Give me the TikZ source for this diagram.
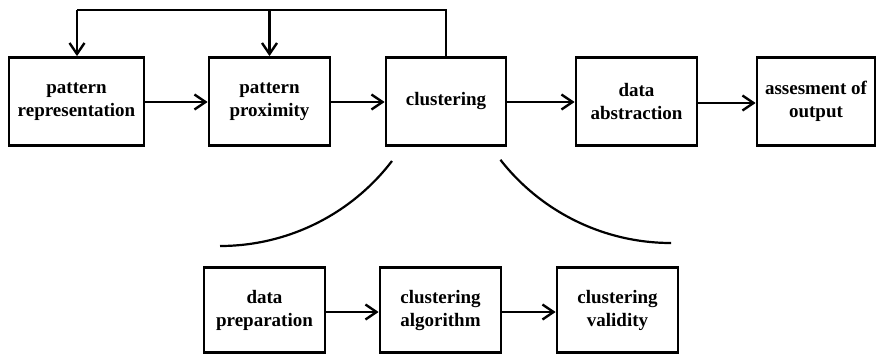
\documentclass[tikz,border=0pt]{standalone}
\usepackage{fontspec}
\setmainfont{Liberation Serif}
\usetikzlibrary{arrows.meta}
\tikzset{
  box/.style={draw=black, line width=2.8pt, fill=white, align=center, inner sep=0pt,
    minimum height=88pt, font=\fontsize{19}{23}\selectfont\bfseries},
  conn/.style={line width=2.4pt, -{Straight Barb[length=11pt,width=15pt,line width=2.4pt]}},
  plain/.style={line width=2.4pt},
  arcline/.style={line width=2.2pt}
}
\begin{document}
\begin{tikzpicture}[x=1pt,y=-1pt]
\useasboundingbox (0,0) rectangle (877,356);
\node[box, minimum width=135pt] (rep) at (76.5,101.5) {pattern\\representation};
\node[box, minimum width=121pt] (prox) at (269.5,101.5) {pattern\\proximity};
\node[box, minimum width=120pt] (clu) at (446,101.5) {clustering};
\node[box, minimum width=121pt] (abs) at (636.5,101.5) {data\\abstraction};
\node[box, minimum width=118pt] (ass) at (816,101.5) {assesment of\\output};
\node[box, minimum width=121pt, minimum height=85pt] (prep) at (264.5,310) {data\\preparation};
\node[box, minimum width=121pt, minimum height=85pt] (alg) at (440.5,310) {clustering\\algorithm};
\node[box, minimum width=121pt, minimum height=85pt] (val) at (617.5,310) {clustering\\validity};

\coordinate (tr) at (446,10);
\coordinate (tl) at (77,10);
\coordinate (tm) at (269.5,10);

\draw[conn] (rep.east |- 0,102) -- (prox.west |- 0,102);
\draw[conn] (prox.east |- 0,102) -- (clu.west |- 0,102);
\draw[conn] (clu.east |- 0,102) -- (abs.west |- 0,102);
\draw[conn] (abs.east |- 0,103) -- (ass.west |- 0,103);
\draw[conn] (prep.east |- 0,312) -- (alg.west |- 0,312);
\draw[conn] (alg.east |- 0,312) -- (val.west |- 0,312);

\draw[plain, line join=miter] (clu.north) -- (tr) -- (tl);
\draw[conn] (tl) -- (rep.north -| tl);
\draw[conn] (tm) -- (prox.north);

% curves
\draw[arcline] (220,246) arc[start angle=90, end angle=37.4, radius=216.5];
\draw[arcline] (671,243) arc[start angle=90, end angle=142, radius=216.5];
\end{tikzpicture}
\end{document}
